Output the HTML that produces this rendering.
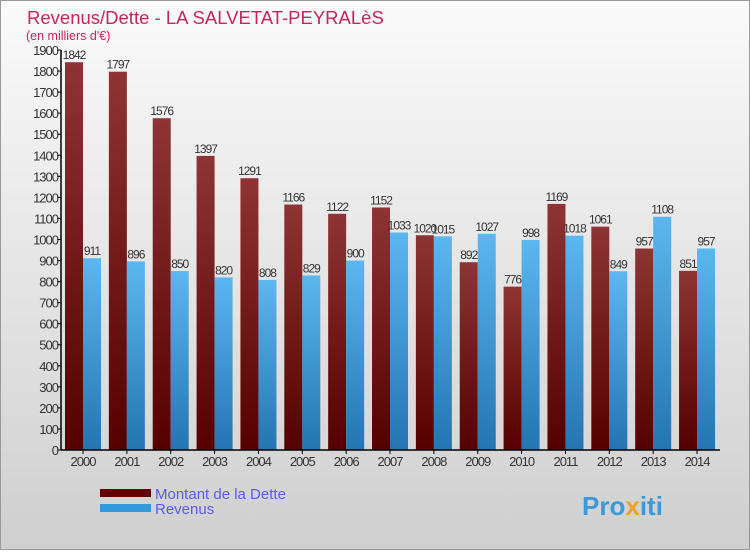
<!DOCTYPE html>
<html><head><meta charset="utf-8"><style>
body{margin:0;width:750px;height:550px;overflow:hidden;font-family:"Liberation Sans",sans-serif}
</style></head><body>
<svg width="750" height="550" xmlns="http://www.w3.org/2000/svg">
<defs>
<linearGradient id="bg" x1="0" y1="0" x2="0" y2="1"><stop offset="0" stop-color="#fafafa"/><stop offset="1" stop-color="#cfcfcf"/></linearGradient>
<linearGradient id="gd" x1="0" y1="0" x2="0" y2="1"><stop offset="0" stop-color="#8e3434"/><stop offset="1" stop-color="#560000"/></linearGradient>
<linearGradient id="gr" x1="0" y1="0" x2="0" y2="1"><stop offset="0" stop-color="#5cb6f0"/><stop offset="1" stop-color="#2475b2"/></linearGradient>
</defs>
<rect x="0.5" y="0.5" width="749" height="549" fill="url(#bg)" stroke="#999"/>
<text x="27" y="24" font-size="18.5" fill="#c8245e">Revenus/Dette - LA SALVETAT-PEYRALèS</text>
<text x="26" y="40" font-size="12.5" fill="#c8245e">(en milliers d'€)</text>
<g id="plot"></g>
<g>
<rect x="100" y="489" width="51" height="8" fill="#600000"/>
<text x="155" y="499" font-size="15" fill="#5a5aee">Montant de la Dette</text>
<rect x="100" y="504" width="51" height="8" fill="#3399dd"/>
<text x="155" y="514" font-size="15" fill="#5a5aee">Revenus</text>
</g>
<text x="582" y="515" font-size="26" font-weight="bold" fill="#3a9ad8">Pro<tspan fill="#f0a020">x</tspan>iti</text>
</svg>
<script>
const years=["2000","2001","2002","2003","2004","2005","2006","2007","2008","2009","2010","2011","2012","2013","2014"];
const dette=[1842,1797,1576,1397,1291,1166,1122,1152,1020,892,776,1169,1061,957,851];
const revenus=[911,896,850,820,808,829,900,1033,1015,1027,998,1018,849,1108,957];
const yTicks=[0,100,200,300,400,500,600,700,800,900,1000,1100,1200,1300,1400,1500,1600,1700,1800,1900];
const NS="http://www.w3.org/2000/svg";
const g=document.getElementById('plot');
const y0=450,yMax=1900,ph=400,x0=61,step=43.86;
const ys=v=>y0-v/yMax*ph;
const xc=i=>83+i*step;
function mk(t,a){const e=document.createElementNS(NS,t);for(const k in a)e.setAttribute(k,a[k]);g.appendChild(e);return e;}
yTicks.forEach(v=>{
 const l=mk('line',{x1:x0-4,x2:x0,y1:ys(v),y2:ys(v),stroke:'#000'});
 
 
 const t=mk('text',{x:x0-3,y:ys(v)+5,'font-size':13,'text-anchor':'end',fill:'#333','letter-spacing':'-1'});
 t.textContent=v;
 
 
});
years.forEach((yr,i)=>{
 const c=xc(i);
 const bd=mk('rect',{x:c-18,y:ys(dette[i]),width:18,height:y0-ys(dette[i]),fill:'url(#gd)'});
 
 
 const br=mk('rect',{x:c,y:ys(revenus[i]),width:18,height:y0-ys(revenus[i]),fill:'url(#gr)'});
 
 
 const td=mk('text',{x:c-9,y:ys(dette[i])-3,'font-size':12,'text-anchor':'middle',fill:'#333','letter-spacing':'-1'});
 td.textContent=dette[i];
 
 
 const tr=mk('text',{x:c+9,y:ys(revenus[i])-3,'font-size':12,'text-anchor':'middle',fill:'#333','letter-spacing':'-1'});
 tr.textContent=revenus[i];
 
 
 const tk=mk('line',{x1:c,x2:c,y1:y0,y2:y0+4,stroke:'#000'});
 
 
 const tl=mk('text',{x:c,y:466,'font-size':13,'text-anchor':'middle',fill:'#333','letter-spacing':'-1'});
 tl.textContent=yr;
 
 
});
const ya=mk('line',{x1:x0,x2:x0,y1:ys(yMax),y2:y0,stroke:'#000','stroke-width':1.5});


const xa=mk('line',{x1:x0,x2:720,y1:y0,y2:y0,stroke:'#000','stroke-width':1.5});


</script>
</body></html>
